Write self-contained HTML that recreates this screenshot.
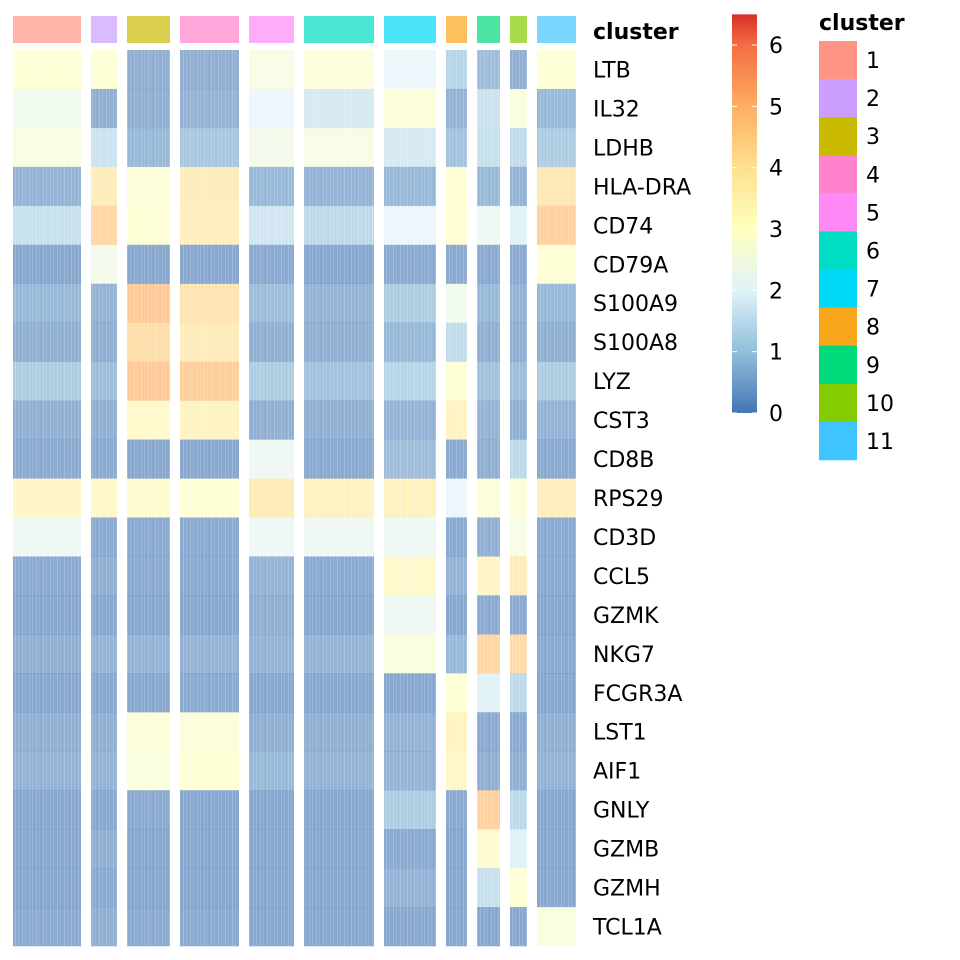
<!DOCTYPE html>
<html><head><meta charset="utf-8">
<style>
html,body{margin:0;padding:0;background:#fff;width:960px;height:960px;overflow:hidden}
svg{display:block;font-family:"DejaVu Sans","Liberation Sans",sans-serif}
</style></head>
<body>
<svg id="chart" width="960" height="960" viewBox="0 0 960 960" xmlns="http://www.w3.org/2000/svg">
<defs>
<linearGradient id="cbgrad" x1="0" y1="1" x2="0" y2="0"></linearGradient>
<pattern id="stripes" width="7" height="10" patternUnits="userSpaceOnUse">
<rect x="1" y="0" width="1" height="10" fill="#fff" opacity="0.2"/>
<rect x="4" y="0" width="1" height="10" fill="#fff" opacity="0.12"/>
</pattern>
</defs>
<g id="heat"></g>
<g id="labels"></g>
<g id="cbar"></g>
<g id="legend"></g>
</svg>
<script>
const genes=["LTB","IL32","LDHB","HLA-DRA","CD74","CD79A","S100A9","S100A8","LYZ","CST3","CD8B","RPS29","CD3D","CCL5","GZMK","NKG7","FCGR3A","LST1","AIF1","GNLY","GZMB","GZMH","TCL1A"];
const clusters=["1","2","3","4","5","6","7","8","9","10","11"];
const clusterColors=["#FF9485","#CC9EFF","#C9BA00","#FF82CC","#FF8AF7","#00DDC2","#00D9F7","#F8A71A","#00D97A","#82CC00","#40C4FF"];
const clusterSizes=[68,26,43,59,45,70,52,21,23,17,39];
const colorbarTicks=[0,1,2,3,4,5,6];
const expr=[
[3.0,3.0,0.2,0.2,2.6,2.9,2.0,1.0,0.5,0.2,3.0],
[2.3,0.2,0.2,0.3,2.0,1.6,2.9,0.3,1.4,2.8,0.4],
[2.7,1.4,0.4,0.7,2.4,2.6,1.6,0.6,1.3,1.2,0.8],
[0.3,3.9,2.9,3.9,0.4,0.3,0.4,3.1,0.4,0.3,4.1],
[1.3,4.6,3.0,3.8,1.5,1.1,2.0,3.1,2.2,1.8,4.8],
[0.05,2.4,0.05,0.05,0.1,0.05,0.1,0.1,0.1,0.1,3.0],
[0.4,0.3,5.0,4.2,0.5,0.3,0.8,2.3,0.4,0.3,0.4],
[0.2,0.2,4.4,3.9,0.2,0.2,0.4,1.2,0.2,0.2,0.2],
[0.8,0.5,5.0,4.9,0.8,0.6,1.0,3.0,0.6,0.5,0.8],
[0.2,0.2,3.3,3.6,0.2,0.2,0.3,3.6,0.3,0.2,0.3],
[0.1,0.1,0.05,0.05,2.2,0.1,0.5,0.1,0.2,1.1,0.1],
[3.5,3.4,3.2,3.0,4.0,3.7,3.7,2.0,2.9,2.9,3.8],
[2.2,0.1,0.1,0.1,2.1,2.2,2.1,0.1,0.2,2.6,0.1],
[0.1,0.2,0.1,0.1,0.3,0.1,3.3,0.3,3.5,3.9,0.1],
[0.05,0.05,0.05,0.05,0.2,0.05,2.2,0.05,0.1,0.1,0.05],
[0.2,0.3,0.3,0.3,0.3,0.3,2.8,0.4,4.6,4.5,0.1],
[0.05,0.05,0.05,0.1,0.05,0.05,0.05,3.0,1.8,1.1,0.05],
[0.2,0.2,2.9,2.9,0.2,0.2,0.3,3.6,0.1,0.1,0.2],
[0.3,0.3,2.8,3.0,0.4,0.3,0.3,3.4,0.2,0.2,0.3],
[0.05,0.05,0.1,0.05,0.05,0.05,0.8,0.1,4.8,1.1,0.05],
[0.05,0.2,0.05,0.05,0.05,0.05,0.1,0.05,3.2,1.8,0.05],
[0.05,0.1,0.05,0.05,0.05,0.05,0.3,0.05,1.3,3.0,0.05],
[0.1,0.2,0.1,0.1,0.05,0.05,0.05,0.05,0.05,0.05,2.8]
];
const NS="http://www.w3.org/2000/svg";
function mk(tag,attrs,parent){const e=document.createElementNS(NS,tag);for(const k in attrs)e.setAttribute(k,attrs[k]);parent.appendChild(e);return e;}
const stops=[[0,[69,117,180]],[1,[145,191,219]],[2,[224,243,248]],[3,[255,255,191]],[4,[254,224,144]],[5,[253,174,97]],[6,[244,109,67]],[6.5,[215,48,39]]];
function color(v){v=Math.max(0,Math.min(6.5,v));for(let i=0;i<stops.length-1;i++){const a=stops[i][0],ca=stops[i][1],b=stops[i+1][0],cb=stops[i+1][1];if(v<=b){const t=(v-a)/(b-a);return "rgb("+ca.map((c,j)=>Math.round(c+(cb[j]-c)*t)).join(",")+")";}}return "rgb(215,48,39)";}
const heatX0=13,heatGap=10,heatTop=50,heatBottom=946;
const rowH=(heatBottom-heatTop)/genes.length;
const xStart=[];let cxp=heatX0;clusterSizes.forEach(s=>{xStart.push(cxp);cxp+=s+heatGap;});
function xPos(c){return xStart[c];}
function yPos(g){return heatTop+g*rowH;}
const heat=document.getElementById('heat');
clusters.forEach((cl,c)=>{
  const a=mk('rect',{x:xPos(c),y:16,width:clusterSizes[c],height:27,fill:clusterColors[c],opacity:0.7},heat);
  
  
  genes.forEach((g,gi)=>{
    const r=mk('rect',{x:xPos(c),y:yPos(gi),width:clusterSizes[c],height:rowH+0.3,fill:color(expr[gi][c]),opacity:0.65},heat);
    
    
  });
  const p=mk('rect',{x:xPos(c),y:heatTop,width:clusterSizes[c],height:heatBottom-heatTop,fill:'url(#stripes)'},heat);
  
  
});
const lab=document.getElementById('labels');
const ct=mk('text',{x:593,y:39,'font-size':22,'font-weight':'bold',fill:'#000'},lab);
ct.textContent='cluster';


genes.forEach((g,gi)=>{
  const t=mk('text',{x:593,y:yPos(gi)+rowH/2+8,'font-size':22,fill:'#000'},lab);
  t.textContent=g;
  
  
});
const grad=document.getElementById('cbgrad');
stops.forEach(s=>{mk('stop',{offset:(s[0]/6.5),'stop-color':'rgb('+s[1].join(',')+')'},grad);});
const cb=document.getElementById('cbar');
function cbY(v){return 413-v*61.33;}
const bar=mk('rect',{x:732,y:cbY(6.5),width:25,height:cbY(0)-cbY(6.5),fill:'url(#cbgrad)'},cb);


colorbarTicks.forEach(v=>{
  mk('line',{x1:732,x2:737,y1:cbY(v),y2:cbY(v),stroke:'#fff','stroke-width':1},cb);
  mk('line',{x1:752,x2:757,y1:cbY(v),y2:cbY(v),stroke:'#fff','stroke-width':1},cb);
  const t=mk('text',{x:769,y:cbY(v)+8,'font-size':22,fill:'#000'},cb);
  t.textContent=v;
  
  
});
const lg=document.getElementById('legend');
const lt=mk('text',{x:819,y:30,'font-size':22,'font-weight':'bold',fill:'#000'},lg);
lt.textContent='cluster';


const lh=(460-41)/clusters.length;
clusters.forEach((cl,c)=>{
  const r=mk('rect',{x:819,y:41+c*lh,width:38,height:lh+0.3,fill:clusterColors[c]},lg);
  
  
  const t=mk('text',{x:866,y:41+c*lh+lh/2+8,'font-size':22,fill:'#000'},lg);
  t.textContent=cl;
  
  
});
</script>
</body></html>
